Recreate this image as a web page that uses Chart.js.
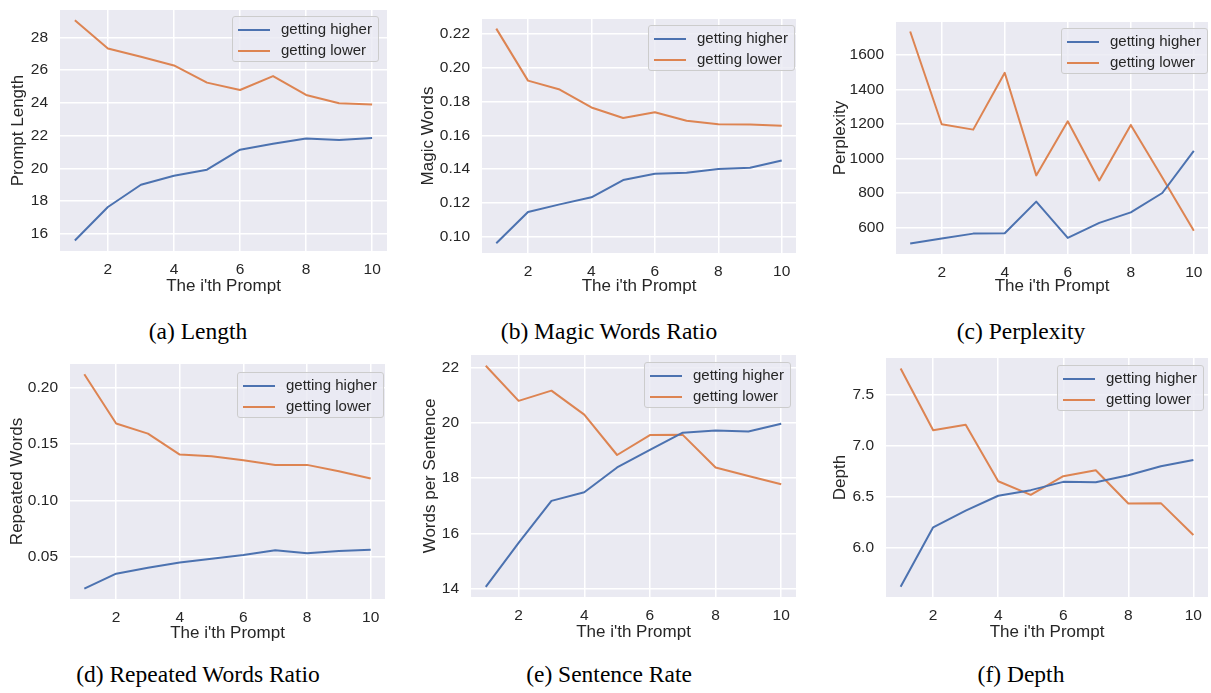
<!DOCTYPE html>
<html>
<head>
<meta charset="utf-8">
<title>Prompt statistics</title>
<script src="https://cdn.jsdelivr.net/npm/chart.js@4.4.1/dist/chart.umd.min.js"></script>
<style>
  body {
    margin: 0;
    width: 1211px;
    height: 693px;
    position: relative;
    overflow: hidden;
    background: #ffffff;
    font-family: "Liberation Sans", Arial, sans-serif;
  }
  canvas { position: absolute; }
  .legend {
    position: absolute;
    background: rgba(234, 234, 242, 0.8);
    border: 1px solid #cccccc;
    border-radius: 3px;
    padding: 1px 6px 1px 5px;
    color: #262626;
    font-size: 15px;
  }
  .legend .row { height: 21px; line-height: 21px; white-space: nowrap; }
  .legend .swatch {
    display: inline-block;
    width: 32px;
    height: 2px;
    vertical-align: middle;
    margin-right: 11px;
  }
  .caption {
    position: absolute;
    width: 320px;
    text-align: center;
    font-family: "Liberation Serif", "Times New Roman", serif;
    font-size: 23.5px;
    line-height: 28px;
    color: #000000;
  }
</style>
</head>
<body>
<script>
// x axis: the i'th prompt
const prompts = [1, 2, 3, 4, 5, 6, 7, 8, 9, 10];
const xTicks = [2, 4, 6, 8, 10];
const seriesNames = ['getting higher', 'getting lower'];
const seriesColors = ['#4c72b0', '#dd8452'];

// (a) Length
const lengthHigher = [15.59, 17.64, 19.00, 19.55, 19.92, 21.14, 21.50, 21.83, 21.73, 21.85];
const lengthLower = [29.06, 27.33, 26.82, 26.29, 25.24, 24.79, 25.64, 24.49, 23.98, 23.90];
const lengthTicks = [16, 18, 20, 22, 24, 26, 28];

// (b) Magic Words Ratio
const magicHigher = [0.0961, 0.1146, 0.1191, 0.1233, 0.1335, 0.1372, 0.1378, 0.1400, 0.1408, 0.1451];
const magicLower = [0.2232, 0.1924, 0.1871, 0.1765, 0.1703, 0.1737, 0.1686, 0.1666, 0.1664, 0.1656];
const magicTicks = [0.10, 0.12, 0.14, 0.16, 0.18, 0.20, 0.22];

// (c) Perplexity
const perplexityHigher = [508, 537, 565, 567, 750, 540, 627, 688, 800, 1044];
const perplexityLower = [1735, 1198, 1167, 1496, 902, 1215, 873, 1194, 890, 581];
const perplexityTicks = [600, 800, 1000, 1200, 1400, 1600];

// (d) Repeated Words Ratio
const repeatHigher = [0.0219, 0.0352, 0.0405, 0.0452, 0.0485, 0.0517, 0.0559, 0.0532, 0.0553, 0.0565];
const repeatLower = [0.2118, 0.1681, 0.1592, 0.1406, 0.1392, 0.1356, 0.1315, 0.1315, 0.1259, 0.1194];
const repeatTicks = [0.05, 0.10, 0.15, 0.20];

// (e) Sentence Rate
const sentenceHigher = [14.07, 15.66, 17.18, 17.49, 18.39, 19.03, 19.65, 19.73, 19.69, 19.97];
const sentenceLower = [22.07, 20.80, 21.17, 20.30, 18.84, 19.56, 19.57, 18.39, 18.08, 17.78];
const sentenceTicks = [14, 16, 18, 20, 22];

// (f) Depth
const depthHigher = [5.621, 6.201, 6.363, 6.509, 6.564, 6.645, 6.641, 6.710, 6.797, 6.859];
const depthLower = [7.753, 7.150, 7.202, 6.651, 6.518, 6.700, 6.758, 6.434, 6.437, 6.126];
const depthTicks = [6.0, 6.5, 7.0, 7.5];

const panels = [
    { higher: lengthHigher, lower: lengthLower, yTicks: lengthTicks, decimals: 0,
      yTitle: 'Prompt Length', caption: '(a) Length',
      box: [0, 0, 400, 300], yRange: [14.95, 29.68], yWidth: 60, xHeight: 49,
      padTop: 10, padRight: 13, yTitlePad: 9, xTitlePad: 4,
      legendAt: [232, 16], captionAt: [198, 331] },
    { higher: magicHigher, lower: magicLower, yTicks: magicTicks, decimals: 2,
      yTitle: 'Magic Words', caption: '(b) Magic Words Ratio',
      box: [405, 0, 405, 300], yRange: [0.0903, 0.2289], yWidth: 77, xHeight: 47,
      padTop: 19, padRight: 14, yTitlePad: 14, xTitlePad: 4,
      legendAt: [648, 25], captionAt: [609, 331] },
    { higher: perplexityHigher, lower: perplexityLower, yTicks: perplexityTicks, decimals: 0,
      yTitle: 'Perplexity', caption: '(c) Perplexity',
      box: [810, 0, 401, 300], yRange: [447, 1790], yWidth: 86, xHeight: 46,
      padTop: 22, padRight: 3, yTitlePad: 21, xTitlePad: 4,
      legendAt: [1061, 28], captionAt: [1021, 331] },
    { higher: repeatHigher, lower: repeatLower, yTicks: repeatTicks, decimals: 2,
      yTitle: 'Repeated Words', caption: '(d) Repeated Words Ratio',
      box: [0, 340, 400, 310], yRange: [0.0128, 0.2208], yWidth: 70, xHeight: 51,
      padTop: 24, padRight: 15, yTitlePad: 8, xTitlePad: 7,
      legendAt: [237, 372], captionAt: [198, 674] },
    { higher: sentenceHigher, lower: sentenceLower, yTicks: sentenceTicks, decimals: 0,
      yTitle: 'Words per Sentence', caption: '(e) Sentence Rate',
      box: [405, 340, 405, 310], yRange: [13.70, 22.46], yWidth: 66, xHeight: 53,
      padTop: 15, padRight: 14, yTitlePad: 16, xTitlePad: 8,
      legendAt: [644, 362], captionAt: [609, 674] },
    { higher: depthHigher, lower: depthLower, yTicks: depthTicks, decimals: 1,
      yTitle: 'Depth', caption: '(f) Depth',
      box: [810, 340, 401, 310], yRange: [5.52, 7.855], yWidth: 76, xHeight: 53,
      padTop: 18, padRight: 3, yTitlePad: 21, xTitlePad: 8,
      legendAt: [1057, 365], captionAt: [1021, 674] }
];

Chart.defaults.font.family = "'Liberation Sans', Arial, sans-serif";
Chart.defaults.color = '#262626';

const plotBackground = {
    id: 'plotBackground',
    beforeDraw(chart) {
        const { ctx, chartArea: a } = chart;
        ctx.save();
        ctx.fillStyle = '#eaeaf2';
        ctx.fillRect(a.left, a.top, a.right - a.left, a.bottom - a.top);
        ctx.restore();
    }
};

panels.forEach(p => {
    const canvas = document.createElement('canvas');
    canvas.width = p.box[2];
    canvas.height = p.box[3];
    canvas.style.left = p.box[0] + 'px';
    canvas.style.top = p.box[1] + 'px';
    document.body.appendChild(canvas);

    new Chart(canvas, {
        type: 'line',
        data: {
            labels: prompts,
            datasets: [p.higher, p.lower].map((values, i) => ({
                label: seriesNames[i],
                data: prompts.map((x, k) => ({ x: x, y: values[k] })),
                borderColor: seriesColors[i],
                backgroundColor: seriesColors[i],
                borderWidth: 2,
                pointRadius: 0,
                tension: 0,
                borderJoinStyle: 'round'
            }))
        },
        options: {
            responsive: false,
            animation: false,
            layout: { padding: { left: 0, top: p.padTop, right: p.padRight, bottom: 0 } },
            plugins: {
                legend: { display: false },
                tooltip: { enabled: false }
            },
            scales: {
                x: {
                    type: 'linear',
                    min: 0.55,
                    max: 10.45,
                    afterBuildTicks: s => { s.ticks = xTicks.map(v => ({ value: v })); },
                    afterFit: s => { s.height = p.xHeight; s.paddingLeft = 0; s.paddingRight = 0; },
                    grid: { color: '#ffffff', lineWidth: 1.5, drawTicks: false },
                    border: { display: false },
                    ticks: { padding: 9, maxRotation: 0, font: { size: 15.5 } },
                    title: {
                        display: true,
                        text: "The i'th Prompt",
                        font: { size: 17 },
                        padding: { top: 0, bottom: p.xTitlePad - 1 }
                    }
                },
                y: {
                    min: p.yRange[0],
                    max: p.yRange[1],
                    afterBuildTicks: s => { s.ticks = p.yTicks.map(v => ({ value: v })); },
                    afterFit: s => { s.width = p.yWidth; s.paddingTop = 0; s.paddingBottom = 0; },
                    grid: { color: '#ffffff', lineWidth: 1.5, drawTicks: false },
                    border: { display: false },
                    ticks: {
                        padding: 12,
                        font: { size: 15.5 },
                        callback: v => Number(v).toFixed(p.decimals)
                    },
                    title: {
                        display: true,
                        text: p.yTitle,
                        font: { size: 17 },
                        padding: { top: p.yTitlePad - 1, bottom: 0 }
                    }
                }
            }
        },
        plugins: [plotBackground]
    });

    // legend box in the upper right of the plot
    const legend = document.createElement('div');
    legend.className = 'legend';
    legend.style.left = p.legendAt[0] + 'px';
    legend.style.top = p.legendAt[1] + 'px';
    seriesNames.forEach((name, i) => {
        const row = document.createElement('div');
        row.className = 'row';
        const swatch = document.createElement('span');
        swatch.className = 'swatch';
        swatch.style.background = seriesColors[i];
        row.appendChild(swatch);
        row.appendChild(document.createTextNode(name));
        legend.appendChild(row);
    });
    document.body.appendChild(legend);

    const caption = document.createElement('div');
    caption.className = 'caption';
    caption.textContent = p.caption;
    caption.style.left = (p.captionAt[0] - 160) + 'px';
    caption.style.top = (p.captionAt[1] - 14) + 'px';
    document.body.appendChild(caption);
});
</script>
</body>
</html>
